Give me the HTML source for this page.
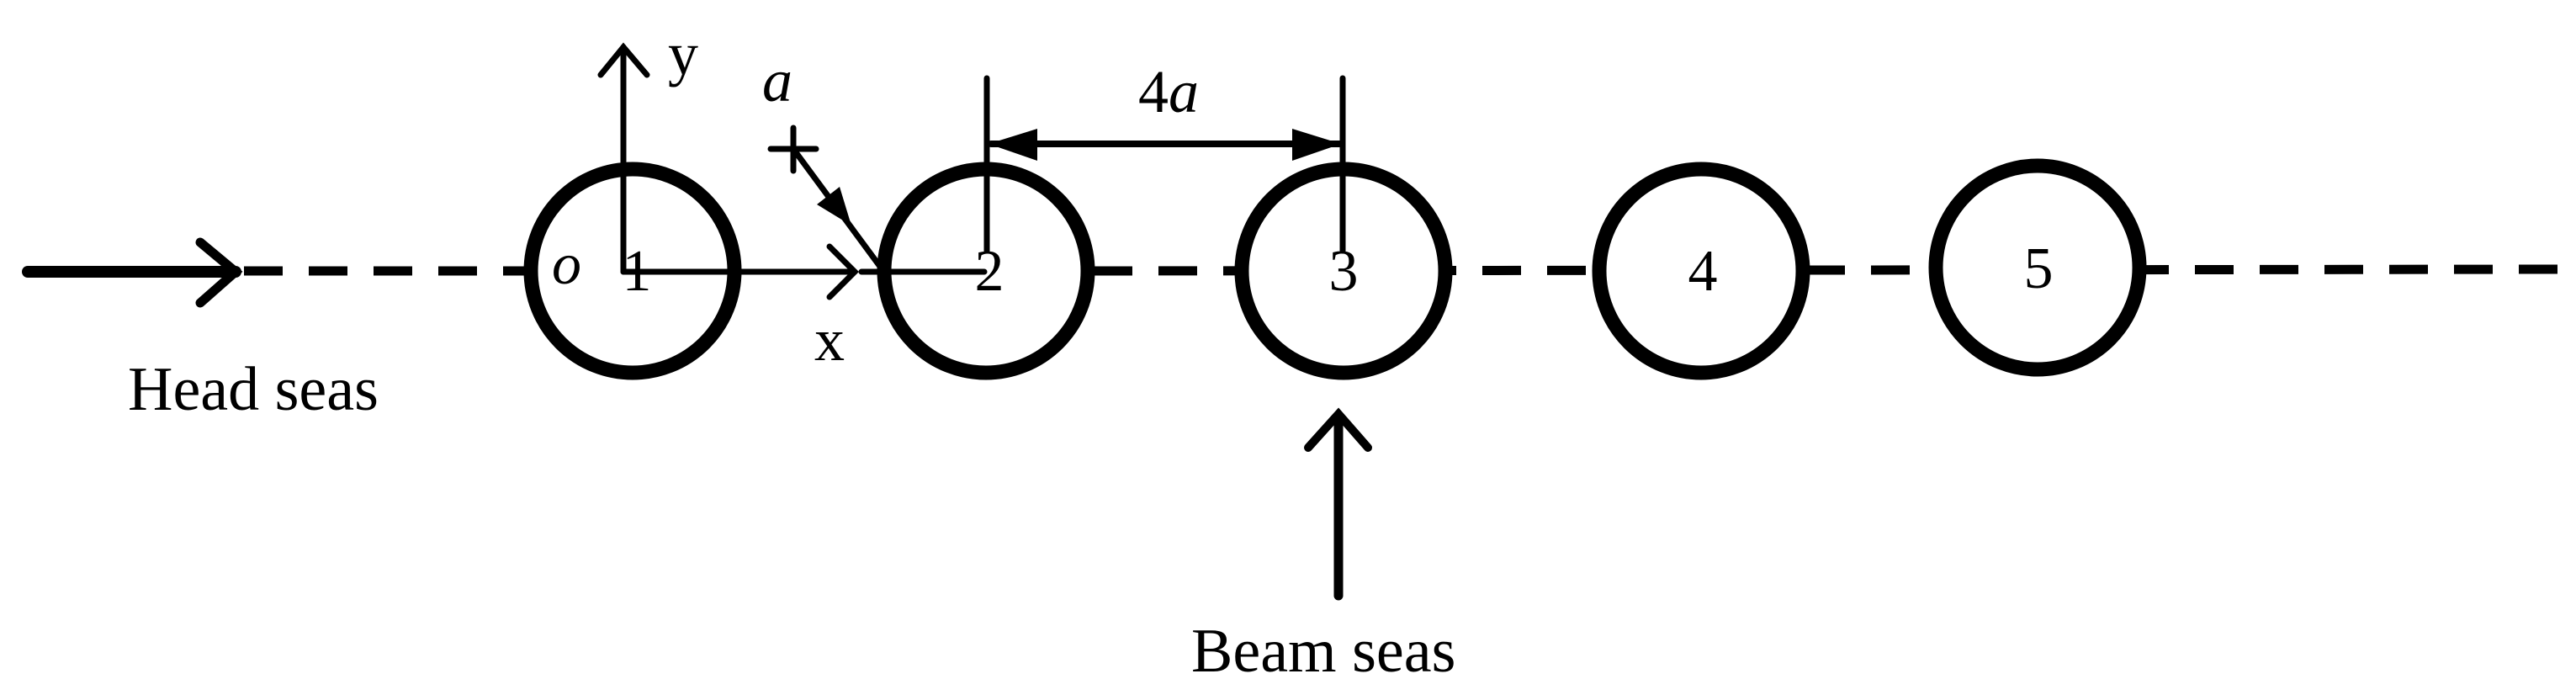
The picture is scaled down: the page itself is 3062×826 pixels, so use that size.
<!DOCTYPE html>
<html><head><meta charset="utf-8"><style>
html,body{margin:0;padding:0;background:#fff;}
svg{display:block;}
text{font-family:"Liberation Serif",serif;fill:#000;}
</style></head><body>
<svg width="3062" height="826" viewBox="0 0 3062 826" xmlns="http://www.w3.org/2000/svg">
<!-- dashed axis line -->
<line x1="290" y1="322" x2="640" y2="322" stroke="#000" stroke-width="11" stroke-dasharray="46 31"/>
<line x1="1300" y1="322" x2="3040" y2="320" stroke="#000" stroke-width="11" stroke-dasharray="46 31"/>
<!-- circles -->
<g fill="#fff" stroke="#000" stroke-width="17">
<circle cx="752" cy="322" r="121"/>
<circle cx="1172" cy="322" r="121"/>
<circle cx="1597" cy="322" r="121"/>
<circle cx="2022" cy="322" r="121"/>
<circle cx="2422" cy="318" r="121"/>
</g>
<!-- head seas arrow -->
<g stroke="#000" stroke-linecap="round" fill="none">
<line x1="33" y1="323" x2="280" y2="323" stroke-width="14"/>
<polyline points="238,288 280,323 238,360" stroke-width="11"/>
</g>
<!-- axes -->
<g stroke="#000" stroke-width="7" fill="none" stroke-linecap="round">
<line x1="741" y1="56" x2="741" y2="323"/>
<polyline points="714,89 741,56 769,89"/>
<line x1="741" y1="323" x2="1016" y2="323"/>
<polyline points="986,293 1016,323 986,353"/>
<line x1="1024" y1="323" x2="1170" y2="323"/>
<!-- cross & radius arrow -->
<line x1="916" y1="177" x2="970" y2="177"/>
<line x1="943" y1="152" x2="943" y2="203"/>
<line x1="943" y1="177" x2="1047" y2="318"/>
<!-- dimension lines -->
<line x1="1173" y1="93" x2="1173" y2="298"/>
<line x1="1596" y1="93" x2="1596" y2="298"/>
<line x1="1178" y1="171" x2="1592" y2="171" stroke-width="8"/>
<!-- beam seas -->
<line x1="1591" y1="495" x2="1591" y2="708" stroke-width="11"/>
<polyline points="1555,532 1591,492 1626,532" stroke-width="10"/>
</g>
<polygon points="998,222 971,243 1012,268" fill="#000"/>
<polygon points="1175,171 1233,153 1233,191" fill="#000"/>
<polygon points="1594,171 1536,153 1536,191" fill="#000"/>
<!-- labels -->
<text x="794" y="88" font-size="72">y</text>
<text x="906" y="120" font-size="72" font-style="italic">a</text>
<text x="1353" y="133" font-size="72">4<tspan font-style="italic">a</tspan></text>
<text x="656" y="337" font-size="70" font-style="italic">o</text>
<text x="968" y="428" font-size="72">x</text>
<g font-size="70" text-anchor="middle">
<text x="757" y="345">1</text>
<text x="1176" y="345">2</text>
<text x="1597" y="345">3</text>
<text x="2024" y="345">4</text>
<text x="2423" y="342">5</text>
</g>
<text x="152" y="487" font-size="74">Head seas</text>
<text x="1416" y="798" font-size="74">Beam seas</text>
</svg>
</body></html>
